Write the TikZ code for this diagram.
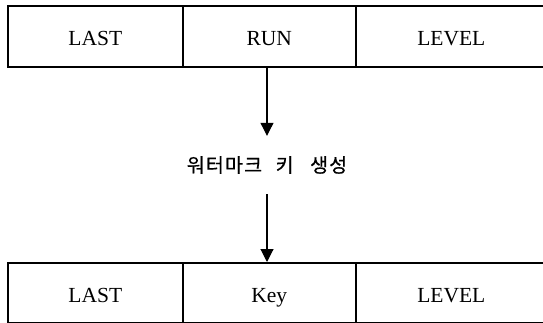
\documentclass[tikz,border=0pt]{standalone}
\usepackage{fontspec}
\setmainfont{Liberation Serif}
\newfontfamily\cellfont{Liberation Serif}
\newfontfamily\krfont[LetterSpace=6,FakeBold=0.6]{Noto Sans CJK KR}
\usetikzlibrary{arrows.meta}
\tikzset{
  cell/.style={draw=black, line width=1.6pt, inner sep=0pt, anchor=north west,
    minimum height=61pt, text height=20pt, text depth=1pt,
    font=\cellfont\fontsize{21.5}{24}\selectfont},
  flow/.style={draw=black, line width=1.1pt, -{Triangle[width=13pt,length=13pt]}},
}
\begin{document}
\begin{tikzpicture}[x=1pt,y=-1pt]
\useasboundingbox (0,0) rectangle (543,323);
% top row
\node[cell, minimum width=175pt] (last1) at (7,5) {LAST};
\node[cell, minimum width=173pt] (run) at (182,5) {RUN};
\node[cell, minimum width=191pt] (level1) at (355,5) {LEVEL};
% middle text
\node[inner sep=0pt, minimum height=58pt, font=\krfont\fontsize{19.5}{23}\selectfont] (wm) at (267,165) {워터마크\hspace{8pt} 키\hspace{11pt} 생성};
% bottom row
\node[cell, minimum width=175pt, minimum height=60pt] (last2) at (7,262) {LAST};
\node[cell, minimum width=173pt, minimum height=60pt] (key) at (182,262) {Key};
\node[cell, minimum width=191pt, minimum height=60pt] (level2) at (355,262) {LEVEL};
% arrows
\draw[flow] (wm.north |- run.south) -- (wm.north);
\draw[flow] (wm.south) -- (wm.south |- key.north);
\end{tikzpicture}
\end{document}
